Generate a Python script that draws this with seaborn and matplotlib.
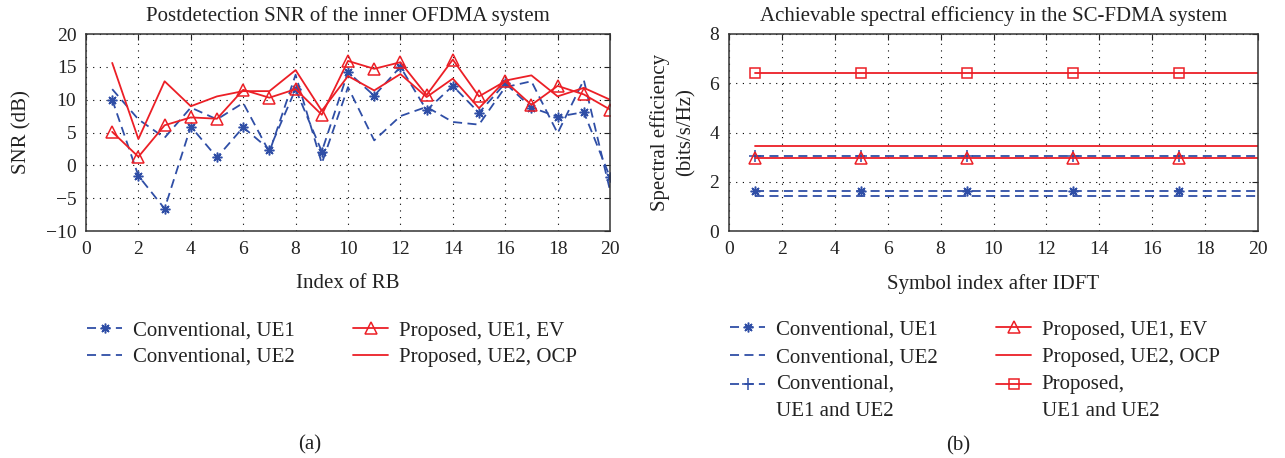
import numpy as np
import pandas as pd
import matplotlib
matplotlib.use("Agg")
import matplotlib.pyplot as plt
from matplotlib.legend_handler import HandlerLine2D
import seaborn as sns

# ---------------- data ----------------
rb_index = list(range(1, 21))
snr_conv_ue1 = [10.0, -1.6, -6.6, 5.9, 1.2, 5.8, 2.4, 11.6, 2.1, 14.2,
                10.6, 15.0, 8.4, 12.1, 8.0, 12.5, 8.8, 7.4, 8.1, -1.8]
snr_conv_ue2 = [11.6, 7.0, 4.2, 8.8, 7.0, 9.5, 2.0, 13.8, 0.3, 11.9,
                3.8, 7.5, 8.9, 6.6, 6.2, 11.9, 12.8, 4.9, 13.0, -3.8]
snr_prop_ue1_ev = [5.1, 1.3, 6.1, 7.3, 7.1, 11.5, 10.3, 11.6, 7.7, 15.9,
                   14.7, 15.7, 10.7, 16.1, 10.5, 12.8, 9.2, 12.1, 10.8, 8.5]
snr_prop_ue2_ocp = [15.6, 4.0, 12.8, 9.0, 10.5, 11.3, 11.3, 14.5, 8.3, 13.6,
                    11.4, 13.9, 10.4, 13.2, 8.7, 12.9, 13.7, 10.5, 11.8, 10.0]

symbol_index = list(range(1, 21))
se_conv_ue1 = [1.64, 1.64, 1.64, 1.64, 1.64, 1.64, 1.64, 1.64, 1.64, 1.64,
               1.64, 1.64, 1.64, 1.64, 1.64, 1.64, 1.64, 1.64, 1.64, 1.64]
se_conv_ue2 = [1.42, 1.42, 1.42, 1.42, 1.42, 1.42, 1.42, 1.42, 1.42, 1.42,
               1.42, 1.42, 1.42, 1.42, 1.42, 1.42, 1.42, 1.42, 1.42, 1.42]
se_conv_sum = [3.06, 3.06, 3.06, 3.06, 3.06, 3.06, 3.06, 3.06, 3.06, 3.06,
               3.06, 3.06, 3.06, 3.06, 3.06, 3.06, 3.06, 3.06, 3.06, 3.06]
se_prop_ue1_ev = [2.98, 2.98, 2.98, 2.98, 2.98, 2.98, 2.98, 2.98, 2.98, 2.98,
                  2.98, 2.98, 2.98, 2.98, 2.98, 2.98, 2.98, 2.98, 2.98, 2.98]
se_prop_ue2_ocp = [3.44, 3.44, 3.44, 3.44, 3.44, 3.44, 3.44, 3.44, 3.44, 3.44,
                   3.44, 3.44, 3.44, 3.44, 3.44, 3.44, 3.44, 3.44, 3.44, 3.44]
se_prop_sum = [6.40, 6.40, 6.40, 6.40, 6.40, 6.40, 6.40, 6.40, 6.40, 6.40,
               6.40, 6.40, 6.40, 6.40, 6.40, 6.40, 6.40, 6.40, 6.40, 6.40]

label_conv_ue1 = "Conventional, UE1"
label_conv_ue2 = "Conventional, UE2"
label_conv_sum = "Conventional,\nUE1 and UE2"
label_prop_ue1 = "Proposed, UE1, EV"
label_prop_ue2 = "Proposed, UE2, OCP"
label_prop_sum = "Proposed,\nUE1 and UE2"

# ---------------- style ----------------
sns.set_theme(style="white")
plt.rcParams["font.family"] = ["Liberation Serif", "DejaVu Serif"]
plt.rcParams["axes.unicode_minus"] = True

BLUE = "#2F4EA6"
RED = "#EC1F26"
TXT = "#222222"
FS = 15
DASH = (5, 3)

W, H = 1285, 458
fig = plt.figure(figsize=(W / 100, H / 100), dpi=100)
ax1 = fig.add_axes([86 / W, 1 - 231 / H, 524 / W, 197 / H])
ax2 = fig.add_axes([729 / W, 1 - 231 / H, 529 / W, 197 / H])

df_a = pd.DataFrame({"x": rb_index, "c1": snr_conv_ue1, "c2": snr_conv_ue2,
                     "p1": snr_prop_ue1_ev, "p2": snr_prop_ue2_ocp})
df_b = pd.DataFrame({"x": symbol_index, "c1": se_conv_ue1, "c2": se_conv_ue2,
                     "cs": se_conv_sum, "p1": se_prop_ue1_ev,
                     "p2": se_prop_ue2_ocp, "ps": se_prop_sum})


def draw(ax, df, col, label, color, dashed, marker=None, ms=8, mew=1.1,
         markevery=None):
    kw = dict(marker=marker, markersize=ms, markeredgewidth=mew,
              markeredgecolor=color, markerfacecolor="none")
    if markevery is not None:
        kw["markevery"] = markevery
    sns.lineplot(data=df, x="x", y=col, ax=ax, color=color, label=label,
                 linewidth=1.3, legend=False, **kw)
    ln = ax.lines[-1]
    if dashed:
        ln.set_dashes(DASH)
    return ln


star = (8, 2, 0)
h1 = [
    draw(ax1, df_a, "c1", label_conv_ue1, BLUE, True, star, 7),
    draw(ax1, df_a, "c2", label_conv_ue2, BLUE, True),
    draw(ax1, df_a, "p1", label_prop_ue1, RED, False, "^", 9),
    draw(ax1, df_a, "p2", label_prop_ue2, RED, False),
]

h2 = [
    draw(ax2, df_b, "c1", label_conv_ue1, BLUE, True, star, 7, markevery=4),
    draw(ax2, df_b, "c2", label_conv_ue2, BLUE, True),
    draw(ax2, df_b, "cs", label_conv_sum, BLUE, True, "+", 8, markevery=4),
    draw(ax2, df_b, "p1", label_prop_ue1, RED, False, "^", 9, markevery=4),
    draw(ax2, df_b, "p2", label_prop_ue2, RED, False),
    draw(ax2, df_b, "ps", label_prop_sum, RED, False, "s", 7, markevery=4),
]


def style_axes(ax, xlim, ylim, xticks, yticks):
    ax.set_xlim(*xlim)
    ax.set_ylim(*ylim)
    ax.set_xticks(xticks)
    ax.set_yticks(yticks)
    ax.grid(True, color="black", linestyle=(0, (1, 5)), linewidth=0.8)
    ax.tick_params(direction="in", top=True, right=True, length=4, width=0.8,
                   labelsize=14, pad=7, colors=TXT)
    for s in ax.spines.values():
        s.set_color("#333333")
        s.set_linewidth(1.1)
    ax.set_facecolor("white")


style_axes(ax1, (0, 20), (-10, 20), range(0, 21, 2), range(-10, 21, 5))
style_axes(ax2, (0, 20), (0, 8), range(0, 21, 2), range(0, 9, 2))

ax1.set_title("Postdetection SNR of the inner OFDMA system", fontsize=FS,
              pad=9, color=TXT)
ax2.set_title("Achievable spectral efficiency in the SC-FDMA system",
              fontsize=FS, pad=9, color=TXT)
ax1.set_xlabel("Index of RB", fontsize=FS, labelpad=12, color=TXT)
ax2.set_xlabel("Symbol index after IDFT", fontsize=FS, labelpad=12, color=TXT)
ax1.set_ylabel("SNR (dB)", fontsize=FS, labelpad=10, color=TXT)
ax2.set_ylabel("Spectral efficiency\n(bits/s/Hz)", fontsize=FS, labelpad=10,
               color=TXT, linespacing=1.45)


class FirstLineHandler(HandlerLine2D):
    """Place the handle next to the first line of a two-line label."""

    def __init__(self, shift=0.0, **kw):
        super().__init__(**kw)
        self.shift = shift

    def create_artists(self, legend, orig_handle, xdescent, ydescent, width,
                       height, fontsize, trans):
        arts = super().create_artists(legend, orig_handle, xdescent, ydescent,
                                      width, height, fontsize, trans)
        for a in arts:
            a.set_ydata(np.asarray(a.get_ydata(), dtype=float) + self.shift)
        return arts


leg_kw = dict(ncol=2, frameon=False, fontsize=FS, handlelength=1.7,
              handletextpad=0.5, columnspacing=2.8,
              borderpad=0, borderaxespad=0, loc="upper left",
              bbox_transform=fig.transFigure, numpoints=1, labelcolor=TXT)
leg1 = ax1.legend(handles=h1, labels=[h.get_label() for h in h1],
                  bbox_to_anchor=(87 / W, 1 - 321 / H), labelspacing=0.32,
                  **leg_kw)
hmap = {h2[2]: FirstLineHandler(shift=10), h2[5]: FirstLineHandler(shift=10)}
leg2 = ax2.legend(handles=h2, labels=[h.get_label() for h in h2],
                  bbox_to_anchor=(730 / W, 1 - 320 / H), handler_map=hmap,
                  labelspacing=0.38, **leg_kw)
for t in leg2.get_texts():
    t.set_linespacing(1.55)

fig.text(310 / W, 1 - 445 / H, "(a)", ha="center", va="center", fontsize=FS,
         color=TXT)
fig.text(958 / W, 1 - 446 / H, "(b)", ha="center", va="center", fontsize=FS,
         color=TXT)

fig.savefig("out.png", dpi=100, facecolor="white")
